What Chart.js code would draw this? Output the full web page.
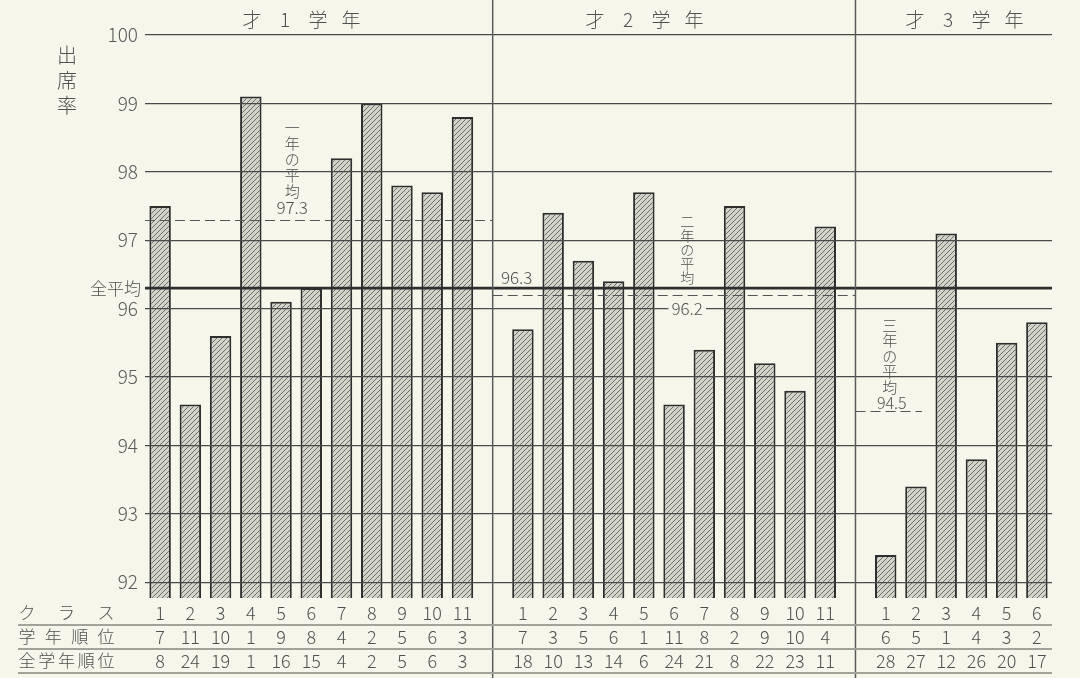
<!DOCTYPE html>
<html>
<head>
<meta charset="utf-8">
<script src="https://cdn.jsdelivr.net/npm/chart.js@4"></script>
<style>
  body { margin: 0; background: #f6f7ea; }
  canvas { display: block; }
</style>
</head>
<body>
<canvas id="c" width="1080" height="678"></canvas>
<script>
// 出席率 (各学年・クラス別)
const YEAR1 = [97.5, 94.6, 95.6, 99.1, 96.1, 96.3, 98.2, 99.0, 97.8, 97.7, 98.8];
const YEAR2 = [95.7, 97.4, 96.7, 96.4, 97.7, 94.6, 95.4, 97.5, 95.2, 94.8, 97.2];
const YEAR3 = [92.4, 93.4, 97.1, 93.8, 95.5, 95.8];

// 学年順位
const RANK_Y1 = [7, 11, 10, 1, 9, 8, 4, 2, 5, 6, 3];
const RANK_Y2 = [7, 3, 5, 6, 1, 11, 8, 2, 9, 10, 4];
const RANK_Y3 = [6, 5, 1, 4, 3, 2];

// 全学年順位
const ALL_Y1 = [8, 24, 19, 1, 16, 15, 4, 2, 5, 6, 3];
const ALL_Y2 = [18, 10, 13, 14, 6, 24, 21, 8, 22, 23, 11];
const ALL_Y3 = [28, 27, 12, 26, 20, 17];

const YEAR_AVG = [97.3, 96.2, 94.5];
const OVERALL_AVG = 96.3;
const Y_TICKS = [92, 93, 94, 95, 96, 97, 98, 99, 100];
const YEAR_TITLES = ['才', '学', '年'];
const YEAR_NUMS = ['1', '2', '3'];
const ROW_LABELS = ['クラス', '学年順位', '全学年順位'];

// 学年の間に空きスロットを1つずつ入れる
const groups = [YEAR1, YEAR2, YEAR3];
const labels = [], values = [], gradeRank = [], allRank = [];
const rankGroups = [RANK_Y1, RANK_Y2, RANK_Y3];
const allGroups = [ALL_Y1, ALL_Y2, ALL_Y3];
const dividerIdx = [];
groups.forEach((g, gi) => {
  g.forEach((v, i) => {
    labels.push(String(i + 1));
    values.push(v);
    gradeRank.push(rankGroups[gi][i]);
    allRank.push(allGroups[gi][i]);
  });
  if (gi < groups.length - 1) {
    dividerIdx.push(labels.length);
    labels.push('');
    values.push(null);
    gradeRank.push(null);
    allRank.push(null);
  }
});

const FONT = '"Noto Sans CJK JP", "DejaVu Sans", sans-serif';
const INK = '#505050';
const BG = '#f6f7ea';

function makeHatch(ctx) {
  const c = document.createElement('canvas');
  c.width = 5; c.height = 5;
  const g = c.getContext('2d');
  g.fillStyle = '#d3d4c9';
  g.fillRect(0, 0, 5, 5);
  g.strokeStyle = '#6c6d64';
  g.lineWidth = 1;
  g.beginPath();
  g.moveTo(0, 5); g.lineTo(5, 0);
  g.moveTo(-1, 1); g.lineTo(1, -1);
  g.moveTo(4, 6); g.lineTo(6, 4);
  g.stroke();
  return ctx.createPattern(c, 'repeat');
}

function vtext(ctx, str, x, y0, step) {
  [...str].forEach((ch, i) => ctx.fillText(ch, x, y0 + i * step));
}

const overlay = {
  id: 'overlay',
  beforeDraw(chart) {
    const ctx = chart.ctx;
    ctx.save();
    ctx.fillStyle = BG;
    ctx.fillRect(0, 0, chart.width, chart.height);
    ctx.restore();
  },
  afterDraw(chart) {
    const ctx = chart.ctx, xs = chart.scales.x, ys = chart.scales.y, a = chart.chartArea;
    const d1 = xs.getPixelForValue(dividerIdx[0]);
    const d2 = xs.getPixelForValue(dividerIdx[1]);
    ctx.save();

    // 学年平均 (破線)
    ctx.strokeStyle = '#555';
    ctx.lineWidth = 1.2;
    ctx.setLineDash([10, 5]);
    const spans = [[a.left, d1], [d1, d2], [d2, xs.getPixelForValue(25.2)]];
    YEAR_AVG.forEach((v, i) => {
      const py = Math.round(ys.getPixelForValue(v)) + 0.5;
      ctx.beginPath();
      ctx.moveTo(spans[i][0], py);
      ctx.lineTo(spans[i][1], py);
      ctx.stroke();
    });
    ctx.setLineDash([]);

    // 全平均
    const pa = ys.getPixelForValue(OVERALL_AVG);
    ctx.strokeStyle = '#2e2e2e';
    ctx.lineWidth = 2.6;
    ctx.beginPath();
    ctx.moveTo(a.left, pa);
    ctx.lineTo(a.right, pa);
    ctx.stroke();

    // 学年の区切り
    ctx.strokeStyle = '#5a5a5a';
    ctx.lineWidth = 1.5;
    [d1, d2].forEach(px => {
      ctx.beginPath();
      ctx.moveTo(px, 0);
      ctx.lineTo(px, chart.height);
      ctx.stroke();
    });

    ctx.fillStyle = INK;
    ctx.textAlign = 'center';
    ctx.textBaseline = 'middle';

    // 見出し
    ctx.font = '300 19px ' + FONT;
    const titleX = [252, 595, 915];
    titleX.forEach((tx, i) => {
      const chars = [YEAR_TITLES[0], YEAR_NUMS[i], YEAR_TITLES[1], YEAR_TITLES[2]];
      chars.forEach((ch, k) => ctx.fillText(ch, tx + k * 33, 20));
    });

    // 軸タイトル
    ctx.font = '300 20px ' + FONT;
    vtext(ctx, '出席率', 67, 55, 25);

    ctx.font = '300 17px ' + FONT;
    ctx.textAlign = 'right';
    ctx.fillText('全平均', 141, pa);
    ctx.textAlign = 'center';
    ctx.fillText(OVERALL_AVG.toFixed(1), d1 + 24, pa - 11);

    // 一年の平均
    const c1 = xs.getPixelForValue(4.5);
    ctx.font = '300 15px ' + FONT;
    vtext(ctx, '一年の平均', c1 - 4, 127, 16);
    ctx.font = '300 17px ' + FONT;
    ctx.fillText(YEAR_AVG[0].toFixed(1), c1 - 4, ys.getPixelForValue(YEAR_AVG[0]) - 12);

    // 二年の平均
    const c2 = xs.getPixelForValue(17.5);
    ctx.font = '300 14px ' + FONT;
    vtext(ctx, '二年の平均', c2 - 2, 222, 14);
    ctx.font = '300 17px ' + FONT;
    const p96 = ys.getPixelForValue(96);
    const w2 = ctx.measureText(YEAR_AVG[1].toFixed(1)).width + 6;
    ctx.fillStyle = BG;
    ctx.fillRect(c2 - 2 - w2 / 2, p96 - 9, w2, 18);
    ctx.fillStyle = INK;
    ctx.fillText(YEAR_AVG[1].toFixed(1), c2 - 2, p96);

    // 三年の平均
    const c3 = xs.getPixelForValue(24.2);
    ctx.font = '300 15px ' + FONT;
    vtext(ctx, '三年の平均', c3 - 2, 325, 15.5);
    ctx.font = '300 16px ' + FONT;
    ctx.fillText(YEAR_AVG[2].toFixed(1), c3, ys.getPixelForValue(YEAR_AVG[2]) - 8);

    // 表
    const rowY = [613, 637, 661];
    ctx.strokeStyle = '#a2a398';
    ctx.lineWidth = 2;
    rowY.forEach(ry => {
      ctx.beginPath();
      ctx.moveTo(18, ry + 12);
      ctx.lineTo(a.right, ry + 12);
      ctx.stroke();
    });
    ctx.font = '300 17px ' + FONT;
    ROW_LABELS.forEach((lab, r) => {
      const chars = [...lab];
      const n = chars.length;
      chars.forEach((ch, k) => ctx.fillText(ch, 27 + k * (79 / (n - 1)), rowY[r]));
    });
    ctx.font = '300 18px ' + FONT;
    const rows = [labels, gradeRank, allRank];
    labels.forEach((lab, i) => {
      if (values[i] === null) return;
      const px = xs.getPixelForValue(i);
      rows.forEach((row, r) => ctx.fillText(String(row[i]), px, rowY[r]));
    });

    ctx.restore();
  }
};

const ctx = document.getElementById('c').getContext('2d');
Chart.defaults.font.family = FONT;

new Chart(ctx, {
  type: 'bar',
  data: {
    labels: labels,
    datasets: [{
      data: values,
      backgroundColor: makeHatch(ctx),
      borderColor: '#2e2e2e',
      borderWidth: 2,
      borderSkipped: false,
      barPercentage: 0.71,
      categoryPercentage: 1
    }]
  },
  options: {
    responsive: false,
    animation: false,
    layout: { padding: { top: 35, right: 28, bottom: 80, left: 0 } },
    plugins: { legend: { display: false }, tooltip: { enabled: false } },
    scales: {
      x: { display: false },
      y: {
        min: 91.77,
        max: 100,
        afterBuildTicks: s => { s.ticks = Y_TICKS.map(v => ({ value: v })); },
        afterFit: s => { s.width = 145; },
        border: { display: false },
        grid: { color: '#4a4a4a', lineWidth: 1.2, drawTicks: false, z: 1 },
        ticks: { padding: 7, color: '#5a5a5a', font: { size: 19, weight: '300' } }
      }
    }
  },
  plugins: [overlay]
});
</script>
</body>
</html>
